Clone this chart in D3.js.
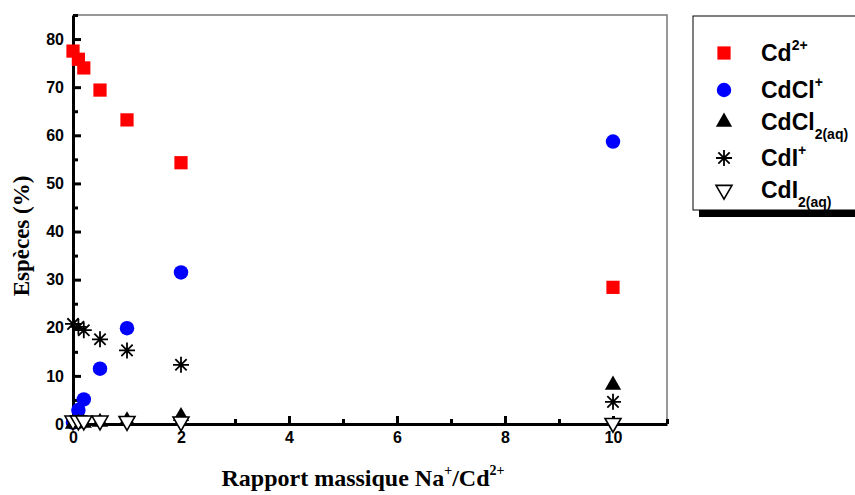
<!DOCTYPE html>
<html>
<head>
<meta charset="utf-8">
<script src="https://cdn.jsdelivr.net/npm/d3@7"></script>
<style>
  body { margin: 0; background: #fff; }
</style>
</head>
<body>
<svg id="chart"></svg>
<script>
// ratio Na+/Cd2+
const ratios = [0, 0.1, 0.2, 0.5, 1, 2, 10];

// species percentages
const cd = [77.5, 75.8, 74.0, 69.4, 63.2, 54.3, 28.4];
const cdcl = [0.3, 2.9, 5.1, 11.5, 19.9, 31.5, 58.7];
const cdcl2 = [0, 0.1, 0.2, 0.4, 0.7, 1.6, 8.1];
const cdi = [20.8, 20.2, 19.5, 17.6, 15.3, 12.3, 4.6];
const cdi2 = [0.7, 0.7, 0.7, 0.7, 0.6, 0.5, 0.2];

const xMajor = [0, 2, 4, 6, 8, 10];
const xMinor = [1, 3, 5, 7, 9, 11];
const yMajor = [0, 10, 20, 30, 40, 50, 60, 70, 80];
const yMinor = [5, 15, 25, 35, 45, 55, 65, 75, 85];

const width = 855, height = 495;
const margin = {top: 15, right: 188, bottom: 71, left: 73};
const iw = width - margin.left - margin.right;
const ih = height - margin.top - margin.bottom;
const sans = 'Arial, "Liberation Sans", sans-serif';
const serif = '"Times New Roman", "Liberation Serif", serif';

const svg = d3.select('#chart').attr('width', width).attr('height', height);
const chart = svg.append('g')
    .attr('transform', `translate(${margin.left}, ${margin.top})`);

const xscale = d3.scaleLinear().domain([0, 11]).range([0, iw]);
const yscale = d3.scaleLinear().domain([0, 85]).range([ih, 0]);

// top and right frame
chart.append('path')
    .attr('d', `M0,0H${iw}V${ih}`)
    .attr('fill', 'none')
    .attr('stroke', '#777')
    .attr('stroke-width', 1.5);

// minor ticks
chart.append('g')
    .attr('transform', `translate(0, ${ih})`)
    .call(d3.axisBottom(xscale).tickValues(xMinor).tickSize(-5).tickFormat(''))
    .call(g => g.select('.domain').remove())
    .selectAll('line').attr('stroke-width', 3);
chart.append('g')
    .call(d3.axisLeft(yscale).tickValues(yMinor).tickSize(-5).tickFormat(''))
    .call(g => g.select('.domain').remove())
    .selectAll('line').attr('stroke-width', 3);

// major axes
const xaxis = chart.append('g')
    .attr('transform', `translate(0, ${ih})`)
    .call(d3.axisBottom(xscale).tickValues(xMajor).tickSize(-8).tickSizeOuter(0).tickPadding(8));
const yaxis = chart.append('g')
    .call(d3.axisLeft(yscale).tickValues(yMajor).tickSize(-8).tickSizeOuter(0).tickPadding(9));

[xaxis, yaxis].forEach(a => {
  a.select('.domain').attr('stroke-width', 3);
  a.selectAll('line').attr('stroke-width', 3);
  a.selectAll('text')
      .style('font-size', '16px')
      .style('font-weight', 'bold')
      .style('font-family', sans);
});

// markers
const starPath = r => {
  const d = r * Math.SQRT1_2;
  return `M0,${-r}V${r}M${-r},0H${r}M${-d},${-d}L${d},${d}M${-d},${d}L${d},${-d}`;
};

const series = [
  {name: 'cd', values: cd, draw: s => s.append('path')
      .attr('d', d3.symbol(d3.symbolSquare, 175)()).attr('fill', '#ff0000')},
  {name: 'cdcl', values: cdcl, draw: s => s.append('path')
      .attr('d', d3.symbol(d3.symbolCircle, 165)()).attr('fill', '#0000ff')},
  {name: 'cdcl2', values: cdcl2, draw: s => s.append('path')
      .attr('d', d3.symbol(d3.symbolTriangle, 115)()).attr('fill', '#000')},
  {name: 'cdi', values: cdi, draw: s => s.append('path')
      .attr('d', starPath(8)).attr('fill', 'none').attr('stroke', '#000').attr('stroke-width', 1.8)},
  {name: 'cdi2', values: cdi2, draw: s => s.append('path')
      .attr('d', d3.symbol(d3.symbolTriangle, 110)()).attr('transform', 'rotate(180)')
      .attr('fill', '#fff').attr('stroke', '#000').attr('stroke-width', 1.6)},
];

series.forEach(sr => {
  const pts = chart.append('g').selectAll('g')
      .data(ratios.map((x, i) => ({x: x, y: sr.values[i]})))
      .join('g')
      .attr('transform', d => `translate(${xscale(d.x)}, ${yscale(d.y)})`);
  sr.draw(pts);
});

// axis titles
const xt = svg.append('text')
    .attr('x', 363).attr('y', 486)
    .attr('text-anchor', 'middle')
    .style('font-family', serif)
    .style('font-weight', 'bold').style('font-size', '24px');
xt.append('tspan').text('Rapport massique Na');
xt.append('tspan').text('+').style('font-size', '14px').attr('dy', -11);
xt.append('tspan').text('/Cd').style('font-size', '24px').attr('dy', 11);
xt.append('tspan').text('2+').style('font-size', '14px').attr('dy', -11);

svg.append('text')
    .attr('transform', 'translate(29, 236) rotate(-90)')
    .attr('text-anchor', 'middle')
    .style('font-family', serif)
    .style('font-weight', 'bold').style('font-size', '23px')
    .text('Espèces (%)');

// legend
const legendLabels = [
  {base: 'Cd', sup: '2+', sub: ''},
  {base: 'CdCl', sup: '+', sub: ''},
  {base: 'CdCl', sup: '', sub: '2(aq)'},
  {base: 'CdI', sup: '+', sub: ''},
  {base: 'CdI', sup: '', sub: '2(aq)'},
];
const legendY = [53, 90, 122, 158, 190];

const legend = svg.append('g');
legend.append('rect')
    .attr('x', 699).attr('y', 22).attr('width', 200).attr('height', 195)
    .attr('fill', '#000');
legend.append('rect')
    .attr('x', 693).attr('y', 16).attr('width', 200).attr('height', 194)
    .attr('fill', '#fff').attr('stroke', '#000').attr('stroke-width', 1);

series.forEach((sr, i) => {
  const g = legend.append('g').attr('transform', `translate(724, ${legendY[i]})`);
  sr.draw(g);
  const lab = legendLabels[i];
  const t = legend.append('text')
      .attr('x', 761).attr('y', legendY[i] + 8)
      .style('font-family', sans)
      .style('font-weight', 'bold').style('font-size', '23px');
  t.append('tspan').text(lab.base);
  if (lab.sup) t.append('tspan').text(lab.sup).style('font-size', '14px').attr('dy', -11);
  if (lab.sub) t.append('tspan').text(lab.sub).style('font-size', '14px').attr('dy', 9);
});
</script>
</body>
</html>
